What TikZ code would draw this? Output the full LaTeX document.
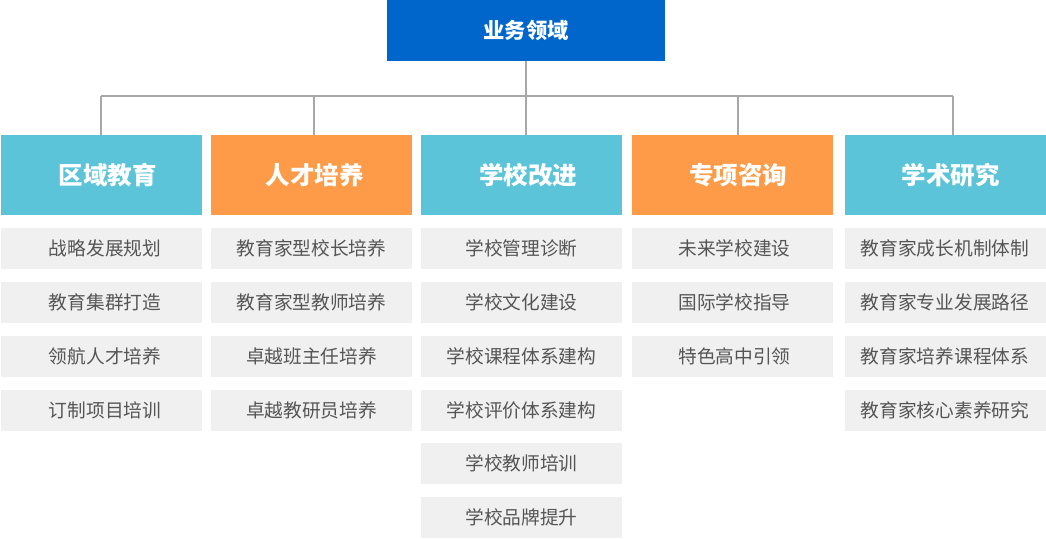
\documentclass[tikz,border=0pt]{standalone}
\usepackage{fontspec}
\newfontfamily\cjk{Noto Sans CJK SC}
\definecolor{topblue}{HTML}{0066CC}
\definecolor{cyanc}{HTML}{5BC4D8}
\definecolor{orangec}{HTML}{FD9B48}
\definecolor{itemgrey}{HTML}{F0F0F0}
\definecolor{itemtext}{HTML}{555555}
\definecolor{linegrey}{HTML}{A8A8A8}
\newcommand{\shiftx}[1]{\hspace*{#1pt}}
\tikzset{
  topbox/.style={fill=topblue, minimum width=278pt, minimum height=61pt, inner sep=0pt, text=white, font=\fontsize{21.3}{25}\cjk\bfseries},
  catbox/.style={minimum width=201pt, minimum height=80pt, inner sep=0pt, text=white, font=\fontsize{24.5}{29}\cjk\bfseries},
  itembox/.style={fill=itemgrey, minimum width=201pt, minimum height=41pt, inner sep=0pt, text=itemtext, font=\fontsize{18.7}{22}\cjk, text depth=0pt, text height=15pt},
  conn/.style={draw=linegrey, line width=1.3pt}
}
\begin{document}
\begin{tikzpicture}[x=1pt,y=-1pt]
\useasboundingbox (0,0) rectangle (1046,539);
\node[topbox] (top) at (526,30.5) {业务领域};
\node[catbox, fill=cyanc]   (c1) at (101,175) {\shiftx{13}区域教育};
\node[catbox, fill=orangec] (c2) at (311.5,175) {\shiftx{6}人才培养};
\node[catbox, fill=cyanc]   (c3) at (521.5,175) {\shiftx{13}学校改进};
\node[catbox, fill=orangec] (c4) at (732.5,175) {\shiftx{11}专项咨询};
\node[catbox, fill=cyanc]   (c5) at (945,175) {\shiftx{11}学术研究};
\coordinate (bus) at (526,96);
\coordinate (b1) at (101,96);
\coordinate (b2) at (314,96);
\coordinate (b4) at (738,96);
\coordinate (b5) at (953,96);
\draw[conn] (top.south) -- (bus);
\draw[conn] (b1) -- (b5);
\draw[conn] (b1) -- (b1 |- c1.north);
\draw[conn] (b2) -- (b2 |- c2.north);
\draw[conn] (bus) -- (bus |- c3.north);
\draw[conn] (b4) -- (b4 |- c4.north);
\draw[conn] (b5) -- (b5 |- c5.north);
% column 1
\node[itembox] (a1) at (101,248) {\shiftx{8}战略发展规划};
\node[itembox] (a2) at (101,302) {\shiftx{8}教育集群打造};
\node[itembox] (a3) at (101,356) {\shiftx{8}领航人才培养};
\node[itembox] (a4) at (101,410) {\shiftx{8}订制项目培训};
% column 2
\node[itembox] (p1) at (311.5,248) {教育家型校长培养};
\node[itembox] (p2) at (311.5,302) {教育家型教师培养};
\node[itembox] (p3) at (311.5,356) {卓越班主任培养};
\node[itembox] (p4) at (311.5,410) {卓越教研员培养};
% column 3
\node[itembox] (d1) at (521.5,248) {学校管理诊断};
\node[itembox] (d2) at (521.5,302) {学校文化建设};
\node[itembox] (d3) at (521.5,356) {学校课程体系建构};
\node[itembox] (d4) at (521.5,410) {学校评价体系建构};
\node[itembox] (d5) at (521.5,463) {学校教师培训};
\node[itembox] (d6) at (521.5,517) {学校品牌提升};
% column 4
\node[itembox] (e1) at (732.5,248) {\shiftx{4}未来学校建设};
\node[itembox] (e2) at (732.5,302) {\shiftx{4}国际学校指导};
\node[itembox] (e3) at (732.5,356) {\shiftx{4}特色高中引领};
% column 5
\node[itembox] (f1) at (945,248) {教育家成长机制体制};
\node[itembox] (f2) at (945,302) {教育家专业发展路径};
\node[itembox] (f3) at (945,356) {教育家培养课程体系};
\node[itembox] (f4) at (945,410) {教育家核心素养研究};
\end{tikzpicture}
\end{document}
